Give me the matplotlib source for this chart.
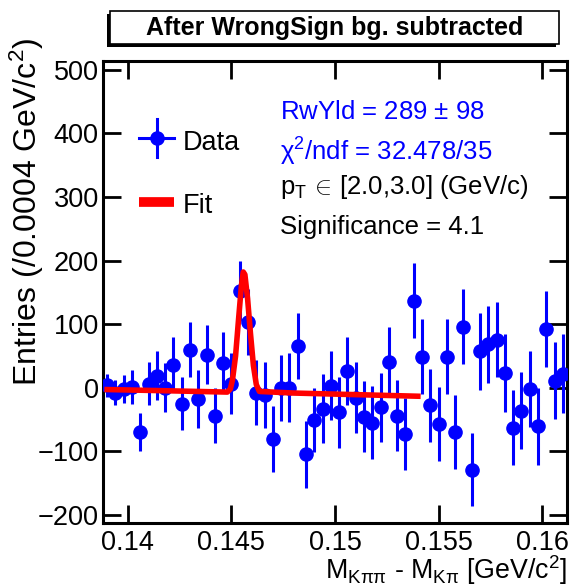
import matplotlib
matplotlib.use('Agg')
import matplotlib.pyplot as plt
from matplotlib.lines import Line2D
from matplotlib.patches import Rectangle

plt.rcParams['font.family'] = ['Liberation Sans', 'DejaVu Sans']
plt.rcParams['mathtext.fontset'] = 'custom'
plt.rcParams['mathtext.rm'] = 'Liberation Sans'
plt.rcParams['mathtext.it'] = 'Liberation Sans:italic'
plt.rcParams['mathtext.bf'] = 'Liberation Sans:bold'

# ---- data ----
bin_centers = [0.1390, 0.1394, 0.1398, 0.1402, 0.1406, 0.1410, 0.1414, 0.1418,
               0.1422, 0.1426, 0.1430, 0.1434, 0.1438, 0.1442, 0.1446, 0.1450,
               0.1454, 0.1458, 0.1462, 0.1466, 0.1470, 0.1474, 0.1478, 0.1482,
               0.1486, 0.1490, 0.1494, 0.1498, 0.1502, 0.1506, 0.1510, 0.1514,
               0.1518, 0.1522, 0.1526, 0.1530, 0.1534, 0.1538, 0.1542, 0.1546,
               0.1550, 0.1554, 0.1558, 0.1562, 0.1566, 0.1570, 0.1574, 0.1578,
               0.1582, 0.1586, 0.1590, 0.1594, 0.1598, 0.1602, 0.1606, 0.1610]
entries = [4, -8, -2, 1, -70, 6, 19, 0,
           36, -25, 60, -18, 52, -44, 39, 6,
           152, 103, -8, -11, -81, 0, 0, 65,
           -105, -51, -33, 3, -39, 26, -16, -46,
           -55, -31, 40, -44, -73, 137, 49, -28,
           -57, 49, -70, 96, -129, 57, 68, 75,
           23, -63, -36, -2, -61, 92, 11, 22]
errors = [18, 20, 22, 27, 30, 34, 38, 38,
          43, 42, 44, 45, 46, 43, 48, 48,
          47, 52, 51, 52, 52, 52, 54, 52,
          53, 51, 54, 54, 56, 54, 56, 56,
          58, 54, 55, 56, 56, 59, 59, 57,
          58, 59, 58, 59, 58, 60, 60, 59,
          61, 59, 61, 60, 60, 60, 61, 62]

fit_x = [0.1390, 0.1420, 0.1448, 0.14495, 0.14505, 0.14520, 0.14535, 0.14548,
         0.14557, 0.14565, 0.14578, 0.14592, 0.14606, 0.14620, 0.14635,
         0.1480, 0.1510, 0.1540]
fit_y = [-3, -5, -7, -2, 12, 50, 110, 160,
         182, 178, 140, 85, 35, 5, -6,
         -8.5, -11, -13.5]

x_ticks = [0.14, 0.145, 0.15, 0.155, 0.16]
x_tick_labels = ['0.14', '0.145', '0.15', '0.155', '0.16']
y_ticks = [-200, -100, 0, 100, 200, 300, 400, 500]

title = 'After WrongSign bg. subtracted'
info_lines = [
    (r'RwYld = 289 $\pm$ 98', 'blue'),
    (r'χ$^{2}$/ndf = 32.478/35', 'blue'),
    (r'p$_{\mathrm{T}}\,\in\!$ [2.0,3.0] (GeV/c)', 'black'),
    ('Significance = 4.1', 'black'),
]

# ---- figure ----
W, H = 571, 586
fig = plt.figure(figsize=(W / 100, H / 100), dpi=100)
fx = lambda x: x / W
fy = lambda y: 1 - y / H

ax = fig.add_axes([fx(103), fy(523), 464 / W, 462 / H])
ax.set_xlim(0.1388, 0.1612)
ax.set_ylim(-213, 514)

ax.errorbar(bin_centers, entries, yerr=errors, fmt='o', color='blue',
            ms=9.5, elinewidth=2.2, capsize=0, zorder=3)
ax.plot(fit_x, fit_y, color='red', lw=4, zorder=4)

ax.set_xticks(x_ticks)
ax.set_xticklabels(x_tick_labels)
ax.set_yticks(y_ticks)
ax.minorticks_off()
ax.tick_params(direction='in', length=13, width=2, top=True, right=True,
               labelsize=19.5)
ax.tick_params(axis='x', pad=5)
ax.tick_params(axis='y', pad=3)
for s in ax.spines.values():
    s.set_linewidth(2.2)

fig.text(fx(567), fy(579), r'M$_{\mathrm{K\pi\pi}}$ - M$_{\mathrm{K\pi}}$ [GeV/c$^{2}$]',
         fontsize=19.3, ha='right', va='baseline')
fig.text(fx(27), fy(212), r'Entries (/0.0004 GeV/c$^{2}$)', fontsize=23,
         rotation=90, ha='center', va='center')

# title box with shadow
fig.add_artist(Rectangle((fx(107), fy(47)), 449 / W, 33 / H, transform=fig.transFigure,
                         facecolor='black', edgecolor='none', zorder=5))
fig.add_artist(Rectangle((fx(110), fy(44)), 449 / W, 33 / H, transform=fig.transFigure,
                         facecolor='white', edgecolor='black', lw=1.2, zorder=6))
fig.text(fx(335), fy(28), title, fontsize=18, fontweight='bold',
         ha='center', va='center', zorder=7)

# legend
fig.add_artist(Line2D([fx(139), fx(174)], [fy(138), fy(138)], transform=fig.transFigure,
                      color='blue', lw=2.2))
fig.add_artist(Line2D([fx(156.5), fx(156.5)], [fy(119), fy(157)], transform=fig.transFigure,
                      color='blue', lw=2.2))
fig.add_artist(Line2D([fx(156.5)], [fy(138)], transform=fig.transFigure,
                      color='blue', marker='o', ms=9.5, lw=0))
fig.text(fx(183), fy(143), 'Data', fontsize=19.5, ha='left', va='center')
fig.add_artist(Line2D([fx(139), fx(174)], [fy(202), fy(202)], transform=fig.transFigure,
                      color='red', lw=7, solid_capstyle='butt'))
fig.text(fx(183), fy(206), 'Fit', fontsize=19.5, ha='left', va='center')

for (txt, col), yy in zip(info_lines, [112, 152, 187, 227]):
    fig.text(fx(280), fy(yy), txt, fontsize=18.5, color=col, ha='left', va='center')

fig.savefig('out.png', dpi=100)
